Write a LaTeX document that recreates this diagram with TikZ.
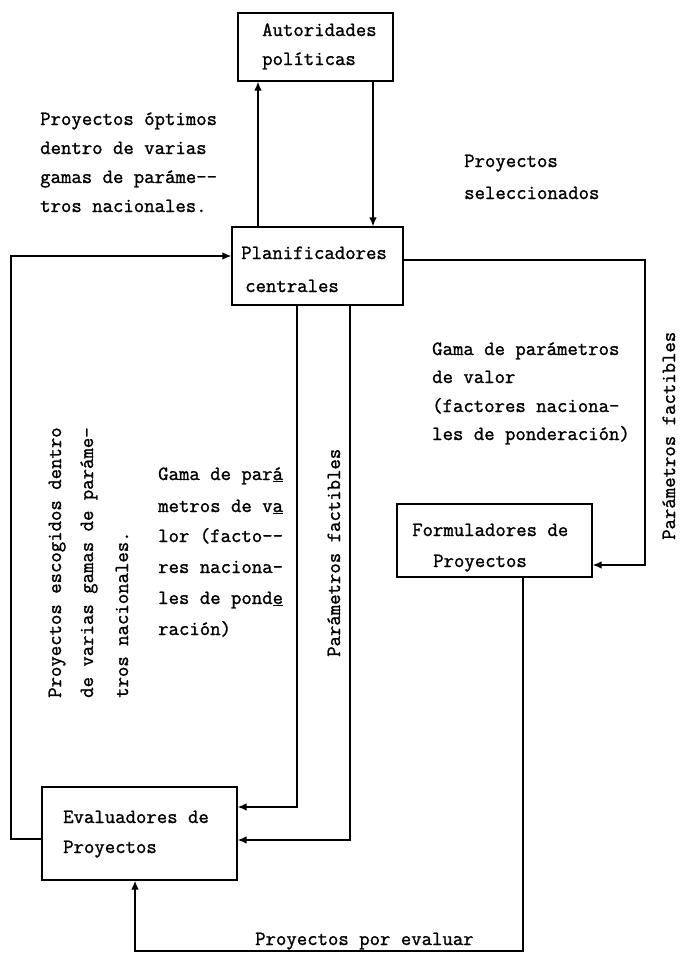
\documentclass[tikz,border=0pt]{standalone}
\usepackage{fontspec}
\usetikzlibrary{arrows.meta}
% typewriter face, slightly heavier
\newfontfamily\typewriter{Latin Modern Mono}[FakeBold=1.3]
\begin{document}
\begin{tikzpicture}[x=1pt,y=-1pt,
  box/.style={draw, line width=1.3pt, inner sep=0pt},
  txt/.style={anchor=base west, inner sep=0pt, font=\typewriter\fontsize{20.2}{24}\selectfont},
  vtxt/.style={txt, rotate=90},
  link/.style={line width=1.3pt},
  arr/.style={link, -{Latex[length=9pt,width=7.5pt]}}]
\useasboundingbox (0,0) rectangle (680,954);

% boxes
\node[box, minimum width=155pt, minimum height=68pt] (aut)  at (315.5,47)  {};
\node[box, minimum width=171pt, minimum height=78pt] (plan) at (317.5,266) {};
\node[box, minimum width=195pt, minimum height=93pt] (ev)   at (139.5,833.5) {};
\node[box, minimum width=195pt, minimum height=73pt] (form) at (494.5,540.5) {};

% box texts
\node[txt] (autA) at (262,36)  {Autoridades};
\node[txt] (autB) at (262,65)  {políticas};
\node[txt] (planA) at (241,259) {Planificadores};
\node[txt] (planB) at (245,292) {centrales};
\node[txt] (evA) at (63,823) {Evaluadores de};
\node[txt] (evB) at (63,853) {Proyectos};
\node[txt] (formA) at (412,536) {Formuladores de};
\node[txt] (formB) at (433,567) {Proyectos};

% routing coordinates
\coordinate (xUp) at (258,0);
\coordinate (xDown) at (373,0);
\coordinate (xL) at (11,0);
\coordinate (yPl) at (0,256);
\coordinate (yEvL) at (0,839);
\coordinate (x1) at (297,0);
\coordinate (y1) at (0,807);
\coordinate (x2) at (350,0);
\coordinate (y2) at (0,840);
\coordinate (yR) at (0,260);
\coordinate (xR) at (645,0);
\coordinate (yF) at (0,565);
\coordinate (xFd) at (523,0);
\coordinate (yB) at (0,951);
\coordinate (xEu) at (135,0);

% connectors
\draw[arr] (plan.north -| xUp) -- (aut.south -| xUp);
\draw[arr] (aut.south -| xDown) -- (plan.north -| xDown);
\draw[arr] (ev.west |- yEvL) -| (xL |- yPl) -- (plan.west |- yPl);
\draw[arr] (plan.south -| x1) |- (ev.east |- y1);
\draw[arr] (plan.south -| x2) |- (ev.east |- y2);
\draw[arr] (plan.east |- yR) -| (xR |- yF) -- (form.east |- yF);
\draw[arr] (form.south -| xFd) |- (xEu |- yB) -- (ev.south -| xEu);

% labels: upper left
\node[txt] (oA) at (40,125) {Proyectos óptimos};
\node[txt] (oB) at (40,154) {dentro de varias};
\node[txt] (oC) at (40,183) {gamas de paráme-{}-};
\node[txt] (oD) at (40,212) {tros nacionales.};

% labels: upper right
\node[txt] (sA) at (464,167) {Proyectos};
\node[txt] (sB) at (464,199) {seleccionados};

% labels: right block
\node[txt] (gA) at (432,355) {Gama de parámetros};
\node[txt] (gB) at (432,383) {de valor};
\node[txt] (gC) at (432,412) {(factores naciona-};
\node[txt] (gD) at (432,440) {les de ponderación)};

% labels: middle block
\node[txt] (mA) at (158,480) {Gama de par\underline{á}};
\node[txt] (mB) at (158,512) {metros de v\underline{a}};
\node[txt] (mC) at (158,542) {lor (facto-{}-};
\node[txt] (mD) at (158,573) {res naciona-};
\node[txt] (mE) at (158,604) {les de pond\underline{e}};
\node[txt] (mF) at (158,635) {ración)};

% vertical labels
\node[vtxt] (lA) at (61,698)  {Proyectos escogidos dentro};
\node[vtxt] (lB) at (93,698)  {de varias gamas de paráme-};
\node[vtxt] (lC) at (128,698) {tros nacionales.};
\node[vtxt] (fM) at (340,657) {Parámetros factibles};
\node[vtxt] (fR) at (675,540) {Parámetros factibles};

% bottom label
\node[txt] (bot) at (255,945) {Proyectos por evaluar};
\end{tikzpicture}
\end{document}
